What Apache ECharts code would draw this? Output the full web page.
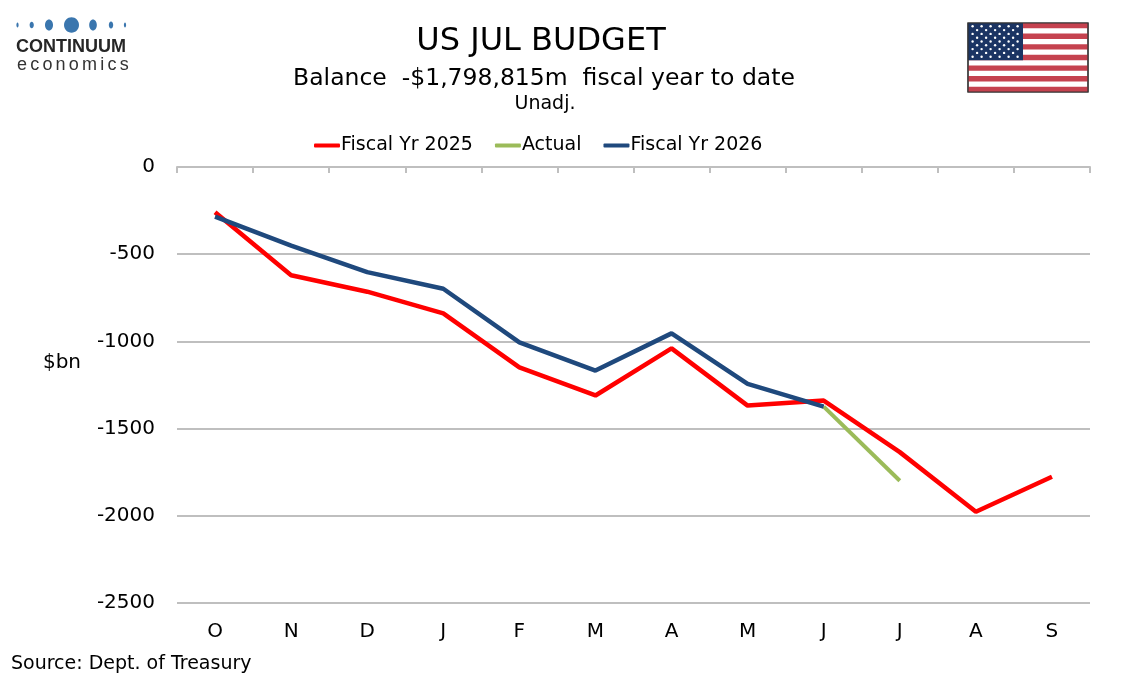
<!DOCTYPE html>
<html>
<head>
<meta charset="utf-8">
<script src="https://cdn.jsdelivr.net/npm/echarts@6/dist/echarts.min.js"></script>
<style>
  html, body { margin: 0; padding: 0; background: #fff; }
  #main { width: 1134px; height: 680px; }
</style>
</head>
<body>
<div id="main"></div>
<script>
var months = ['O', 'N', 'D', 'J', 'F', 'M', 'A', 'M', 'J', 'J', 'A', 'S'];
var fy2025 = [-259, -621, -715, -839, -1149, -1310, -1040, -1368, -1339, -1635, -1977, -1776];
var actual = [null, null, null, null, null, null, null, null, -1374, -1799, null, null];
var fy2026 = [-285, -451, -603, -698, -1006, -1167, -954, -1244, -1374];
var yTicks = { min: -2500, max: 0, step: 500 };

var FONT = '"DejaVu Sans", Verdana, sans-serif';
var myChart = echarts.init(document.getElementById('main'));

// letter-spaced text for the logo, one char at a time
var ctx = document.createElement('canvas').getContext('2d');
function spaced(str, x, y, font, spacing, fill) {
    ctx.font = font;
    var out = [];
    for (var i = 0; i < str.length; i++) {
        out.push({ type: 'text', style: { text: str[i], x: x, y: y, font: font, fill: fill, textVerticalAlign: 'middle' } });
        x += ctx.measureText(str[i]).width + spacing;
    }
    return out;
}

// logo dots
var dots = [[17.5, 1.1, 2.5], [31.7, 2.1, 3.3], [49, 4, 5.5], [71.5, 7.5, 7.7], [93, 3.8, 5.5], [111, 2.2, 3.5], [125, 1.1, 2.5]];
var graphics = [];
dots.forEach(function(d) {
    graphics.push({ type: 'ellipse', shape: { cx: d[0], cy: 25, rx: d[1], ry: d[2] }, style: { fill: '#3a76ae' } });
});
graphics.push({ type: 'text', style: { text: 'CONTINUUM', x: 16, y: 47, font: 'bold 18px "Liberation Sans", Arial, sans-serif', fill: '#262626', textVerticalAlign: 'middle' } });
graphics = graphics.concat(spaced('economics', 17, 65, '18px "Liberation Sans", Arial, sans-serif', 3.2, '#333'));

// flag
var fx = 968, fy = 23, fw = 120, fh = 69;
var sh = fh / 13;
graphics.push({ type: 'rect', shape: { x: fx, y: fy, width: fw, height: fh }, style: { fill: '#fff', stroke: '#333', lineWidth: 1.2 } });
for (var s = 0; s < 13; s += 2) {
    graphics.push({ type: 'rect', shape: { x: fx, y: fy + s * sh, width: fw, height: sh }, style: { fill: '#c5424f' } });
}
graphics.push({ type: 'rect', shape: { x: fx, y: fy, width: 55, height: sh * 7 }, style: { fill: '#1b3463' } });
for (var r = 0; r < 9; r++) {
    var n = r % 2 === 0 ? 6 : 5;
    for (var c = 0; c < n; c++) {
        graphics.push({ type: 'circle', shape: { cx: fx + 4.6 + c * 9 + (r % 2) * 4.5, cy: fy + 3.3 + r * 3.8, r: 1.2 }, style: { fill: '#fff' } });
    }
}
graphics.push({ type: 'rect', shape: { x: fx, y: fy, width: fw, height: fh }, style: { fill: 'none', stroke: '#333', lineWidth: 1.2 } });

// titles and notes
graphics.push({ type: 'text', style: { text: 'US JUL BUDGET', x: 541, y: 42, font: '32px ' + FONT, fill: '#000', textAlign: 'center', textVerticalAlign: 'middle' } });
graphics.push({ type: 'text', style: { text: 'Balance  -$1,798,815m  fiscal year to date', x: 544, y: 79, font: '23.5px ' + FONT, fill: '#000', textAlign: 'center', textVerticalAlign: 'middle' } });
graphics.push({ type: 'text', style: { text: 'Unadj.', x: 545, y: 104, font: '19px ' + FONT, fill: '#000', textAlign: 'center', textVerticalAlign: 'middle' } });
graphics.push({ type: 'text', style: { text: '$bn', x: 62, y: 363, font: '20px ' + FONT, fill: '#000', textAlign: 'center', textVerticalAlign: 'middle' } });
graphics.push({ type: 'text', style: { text: 'Source: Dept. of Treasury', x: 11, y: 664, font: '19px ' + FONT, fill: '#000', textVerticalAlign: 'middle' } });

var option = {
    animation: false,
    backgroundColor: '#fff',
    textStyle: { fontFamily: FONT },
    legend: {
        top: 131,
        left: 309,
        itemWidth: 26,
        itemHeight: 4,
        itemGap: 22,
        icon: 'roundRect',
        textStyle: { fontSize: 19, color: '#000', fontFamily: FONT, padding: [0, 0, 0, -4] },
        data: ['Fiscal Yr 2025', 'Actual', 'Fiscal Yr 2026']
    },
    grid: { left: 177, right: 44, top: 167, bottom: 77, containLabel: false },
    xAxis: [{
        type: 'category',
        data: months,
        position: 'bottom',
        axisLine: { show: false, onZero: false },
        axisTick: { show: false },
        axisLabel: { fontSize: 20, color: '#000', margin: 19, fontFamily: FONT }
    }, {
        type: 'category',
        data: months,
        position: 'top',
        axisLine: { show: true, onZero: false, lineStyle: { color: '#bfbfbf', width: 2 } },
        axisTick: { show: true, inside: true, length: 6, lineStyle: { color: '#bfbfbf', width: 2 } },
        axisLabel: { show: false }
    }],
    yAxis: {
        type: 'value',
        min: yTicks.min,
        max: yTicks.max,
        interval: yTicks.step,
        axisLine: { show: false },
        axisTick: { show: false },
        axisLabel: { fontSize: 20, color: '#000', margin: 22, fontFamily: FONT, formatter: function(v) { return String(v); } },
        splitLine: { lineStyle: { color: '#bfbfbf', width: 2 } }
    },
    series: [{
        name: 'Fiscal Yr 2025',
        type: 'line',
        data: fy2025,
        symbol: 'none',
        color: '#ff0000',
        lineStyle: { width: 4.5, color: '#ff0000' }
    }, {
        name: 'Actual',
        type: 'line',
        data: actual,
        symbol: 'none',
        color: '#9bbb59',
        lineStyle: { width: 4, color: '#9bbb59' }
    }, {
        name: 'Fiscal Yr 2026',
        type: 'line',
        data: fy2026,
        symbol: 'none',
        color: '#1f497d',
        lineStyle: { width: 4.5, color: '#1f497d' }
    }],
    graphic: graphics
};

myChart.setOption(option);
</script>
</body>
</html>
